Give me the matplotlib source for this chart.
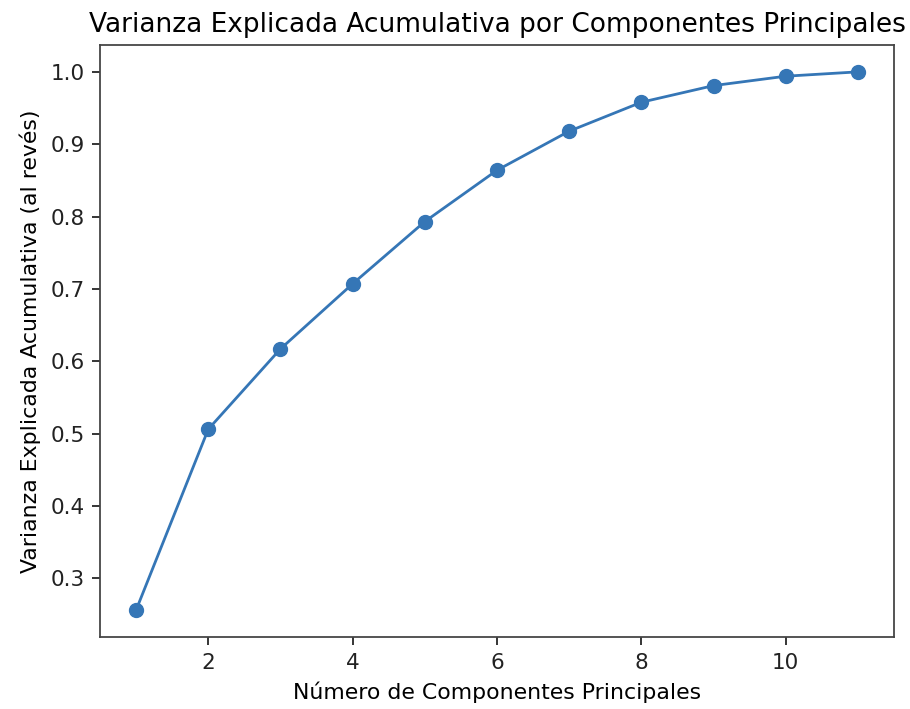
import matplotlib
matplotlib.use('Agg')
import matplotlib.pyplot as plt

# Cumulative explained variance
componentes = [1, 2, 3, 4, 5, 6, 7, 8, 9, 10, 11]
varianza_acumulada = [0.256, 0.506, 0.617, 0.707, 0.793, 0.864, 0.918, 0.958, 0.981, 0.994, 1.000]

s = 1.6  # scale vs. default matplotlib sizes

fig = plt.figure(figsize=(9.1, 7.09), dpi=100)
ax = fig.add_axes([0.1099, 0.1016, 0.8725, 0.835])

ax.plot(componentes, varianza_acumulada, marker='o', color='#3576b6',
        linewidth=2.0, markersize=10)

ax.set_title('Varianza Explicada Acumulativa por Componentes Principales', fontsize=19, pad=6 * s)
ax.set_xlabel('Número de Componentes Principales', fontsize=15.8, labelpad=4 * s)
ax.set_ylabel('Varianza Explicada Acumulativa (al revés)', fontsize=15.8, labelpad=4 * s)
ax.tick_params(labelsize=15.5, width=0.8 * s, length=3.5 * s, pad=3.5 * s,
               colors='#222222')
for sp in ax.spines.values():
    sp.set_linewidth(0.8 * s)
    sp.set_color('#444444')

fig.savefig('out.png', dpi=100, facecolor='white')
